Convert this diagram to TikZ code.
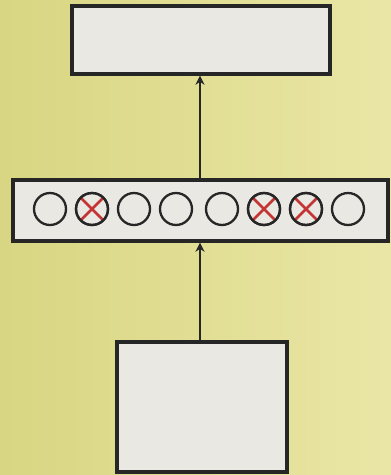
\documentclass[tikz,border=0pt]{standalone}
\usetikzlibrary{arrows.meta,calc}
\definecolor{bgL}{RGB}{216,214,130}
\definecolor{bgR}{RGB}{234,230,166}
\definecolor{boxfill}{RGB}{234,232,226}
\definecolor{xred}{RGB}{196,52,52}
\tikzset{
  panel/.style={draw=black!85, line width=3.4pt, fill=boxfill, inner sep=0pt},
  unit/.style={circle, draw=black!85, line width=2.3pt, minimum size=32pt, inner sep=0pt},
  conn/.style={draw=black!85, line width=2pt, -{Stealth[length=9pt,width=9pt]}},
  cross/.style={draw=xred, line width=2.6pt}
}
\begin{document}
\begin{tikzpicture}[x=1pt,y=-1pt]
\shade[left color=bgL, right color=bgR] (0,0) rectangle (391,475);
\useasboundingbox (0,0) rectangle (391,475);
\node[panel, minimum width=258pt, minimum height=68pt] (top) at (201,40) {};
\node[panel, minimum width=375pt, minimum height=61pt] (mid) at (200.5,210.5) {};
\node[panel, minimum width=170pt, minimum height=130pt] (bot) at (202,407) {};
\foreach \i/\x in {1/50,2/92,3/134,4/176,5/222,6/264,7/306,8/348}{
  \node[unit] (c\i) at (\x,209) {};
}
\foreach \i in {2,6,7}{
  \draw[cross] ($(c\i.center)+(-11,-11)$) -- ($(c\i.center)+(11,11)$);
  \draw[cross] ($(c\i.center)+(-11,11)$) -- ($(c\i.center)+(11,-11)$);
  \node[unit] at (c\i.center) {};
}
\draw[conn] (bot.north -| 200,0) -- (mid.south -| 200,0);
\draw[conn] (mid.north -| 200,0) -- (top.south -| 200,0);
\end{tikzpicture}
\end{document}
